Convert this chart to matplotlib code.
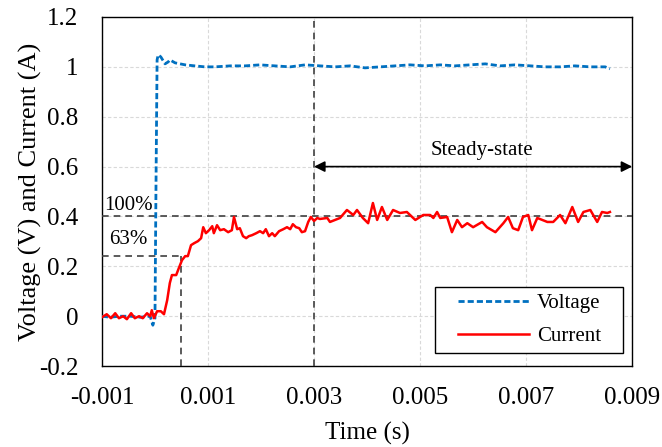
import numpy as np
import matplotlib
matplotlib.use("Agg")
import matplotlib.pyplot as plt
from matplotlib.patches import Rectangle

# time in ms, converted to s when plotting
current_t = [-1.00, -0.91, -0.83, -0.75, -0.68, -0.60, -0.53, -0.45, -0.38, -0.30,
             -0.23, -0.15, -0.09, -0.06, -0.02, 0.04, 0.11, 0.17, 0.23, 0.28,
             0.32, 0.40, 0.45, 0.51, 0.57, 0.62, 0.68, 0.74, 0.81, 0.87,
             0.91, 0.96, 1.02, 1.08, 1.11, 1.17, 1.23, 1.30, 1.38, 1.45,
             1.49, 1.55, 1.60, 1.66, 1.72, 1.77, 1.83, 1.91, 1.98, 2.04,
             2.09, 2.15, 2.21, 2.26, 2.34, 2.42, 2.49, 2.55, 2.60, 2.66,
             2.72, 2.77, 2.83, 2.89, 2.94, 3.00, 3.06, 3.11, 3.25, 3.30,
             3.49, 3.62, 3.74, 3.81, 3.92, 4.02, 4.11, 4.19, 4.28, 4.38,
             4.49, 4.62, 4.75, 4.81, 4.91, 5.06, 5.19, 5.25, 5.32, 5.38,
             5.51, 5.60, 5.70, 5.79, 5.89, 6.00, 6.17, 6.26, 6.42, 6.57,
             6.66, 6.75, 6.85, 6.94, 7.04, 7.11, 7.21, 7.40, 7.51, 7.64,
             7.74, 7.87, 7.98, 8.08, 8.21, 8.34, 8.43, 8.53, 8.58]
current_v = [-0.004, 0.008, -0.008, 0.012, -0.008, 0.0, -0.012, 0.012, -0.008, 0.0,
             -0.008, 0.012, 0.0, 0.024, -0.008, 0.020, 0.020, 0.008, 0.064, 0.133,
             0.165, 0.165, 0.193, 0.225, 0.241, 0.241, 0.285, 0.293, 0.301, 0.313,
             0.357, 0.333, 0.345, 0.361, 0.333, 0.365, 0.345, 0.349, 0.337, 0.345,
             0.398, 0.349, 0.353, 0.321, 0.313, 0.321, 0.325, 0.333, 0.341, 0.333,
             0.349, 0.321, 0.333, 0.321, 0.341, 0.349, 0.357, 0.349, 0.369, 0.357,
             0.353, 0.337, 0.341, 0.378, 0.398, 0.382, 0.394, 0.390, 0.394, 0.378,
             0.394, 0.426, 0.406, 0.426, 0.394, 0.373, 0.454, 0.386, 0.438, 0.386,
             0.426, 0.414, 0.418, 0.406, 0.386, 0.406, 0.406, 0.394, 0.418, 0.394,
             0.398, 0.337, 0.386, 0.357, 0.373, 0.357, 0.378, 0.357, 0.337, 0.373,
             0.398, 0.353, 0.345, 0.398, 0.406, 0.345, 0.394, 0.378, 0.378, 0.406,
             0.373, 0.438, 0.378, 0.418, 0.426, 0.378, 0.418, 0.414, 0.418]

voltage_t = [-1.00, -0.85, -0.66, -0.47, -0.28, -0.09, -0.04, 0.00, 0.02, 0.04,
             0.06, 0.11, 0.19, 0.25, 0.28, 0.38, 0.57, 0.75, 0.94, 1.13,
             1.42, 1.70, 1.98, 2.26, 2.55, 2.83, 3.11, 3.40, 3.68, 3.96,
             4.25, 4.53, 4.81, 5.09, 5.38, 5.66, 5.94, 6.23, 6.51, 6.79,
             7.08, 7.36, 7.64, 7.92, 8.21, 8.49, 8.58]
voltage_v = [0.0, -0.004, 0.0, 0.0, -0.004, 0.0, -0.036, -0.008, 0.546, 1.028,
             1.048, 1.040, 1.012, 1.020, 1.028, 1.016, 1.008, 1.004, 1.0, 1.0,
             1.004, 1.004, 1.008, 1.004, 1.0, 1.008, 1.004, 1.0, 1.004, 0.996,
             1.0, 1.004, 1.008, 1.004, 1.008, 1.004, 1.008, 1.012, 1.004, 1.008,
             1.004, 1.0, 1.0, 1.004, 1.0, 1.0, 0.992]

steady_value = 0.4
tau_value = 0.24
tau_time = 0.0005
steady_start = 0.003

plt.rcParams['font.family'] = ['Liberation Serif', 'DejaVu Serif']

fig = plt.figure(figsize=(6.62, 4.47), dpi=100)
ax = fig.add_axes([0.154, 0.181, 0.801, 0.781])

ax.plot(np.array(voltage_t) * 1e-3, voltage_v, color='#0070C0', lw=2.0,
        ls=(0, (2.2, 1.1)), label='Voltage', zorder=4)
ax.plot(np.array(current_t) * 1e-3, current_v, color='#FF0000', lw=1.8,
        label='Current', zorder=5)

dash = dict(color='#404040', lw=1.2, ls=(0, (4, 3)), zorder=3)
ax.axhline(steady_value, **dash)
ax.axvline(steady_start, **dash)
ax.plot([-0.001, tau_time], [tau_value, tau_value], **dash)
ax.plot([tau_time, tau_time], [-0.2, tau_value], **dash)

ax.annotate('', xy=(steady_start, 0.6), xytext=(0.009, 0.6),
            arrowprops=dict(arrowstyle='<|-|>', color='black', lw=1.2,
                            mutation_scale=16, shrinkA=0, shrinkB=0))
ax.text(0.00617, 0.625, 'Steady-state', ha='center', va='bottom', fontsize=15)
ax.text(-0.00096, 0.405, '100%', ha='left', va='bottom', fontsize=15)
ax.text(-0.00086, 0.27, '63%', ha='left', va='bottom', fontsize=15)

ax.set_xlim(-0.001, 0.009)
ax.set_ylim(-0.2, 1.2)
ax.set_xticks(np.arange(-0.001, 0.0091, 0.002))
ax.set_xticklabels(['-0.001', '0.001', '0.003', '0.005', '0.007', '0.009'])
ax.set_yticks(np.arange(-0.2, 1.21, 0.2))
ax.set_yticklabels(['-0.2', '0', '0.2', '0.4', '0.6', '0.8', '1', '1.2'])
ax.tick_params(length=0, labelsize=18)
ax.tick_params(axis='x', pad=15)
ax.tick_params(axis='y', pad=17)
ax.grid(True, color='#d9d9d9', ls=(0, (3, 2)), lw=0.8)
ax.set_axisbelow(True)
for s in ax.spines.values():
    s.set_linewidth(1.0)

ax.set_xlabel('Time (s)', fontsize=18, labelpad=9)
ax.set_ylabel('Voltage (V) and Current (A)', fontsize=19, labelpad=-2)

# legend box drawn separately (wide horizontal padding, tight vertical)
ax.add_patch(Rectangle((0.628, 0.037), 0.355, 0.189, transform=ax.transAxes,
                       facecolor='white', edgecolor='black', lw=1.0, zorder=6))
leg = ax.legend(loc='center', bbox_to_anchor=(0.806, 0.132), fontsize=15,
                frameon=False, handlelength=3.4, handletextpad=0.4,
                borderpad=0.0, labelspacing=0.65)
leg.set_zorder(7)

fig.savefig('out.png', dpi=100)
